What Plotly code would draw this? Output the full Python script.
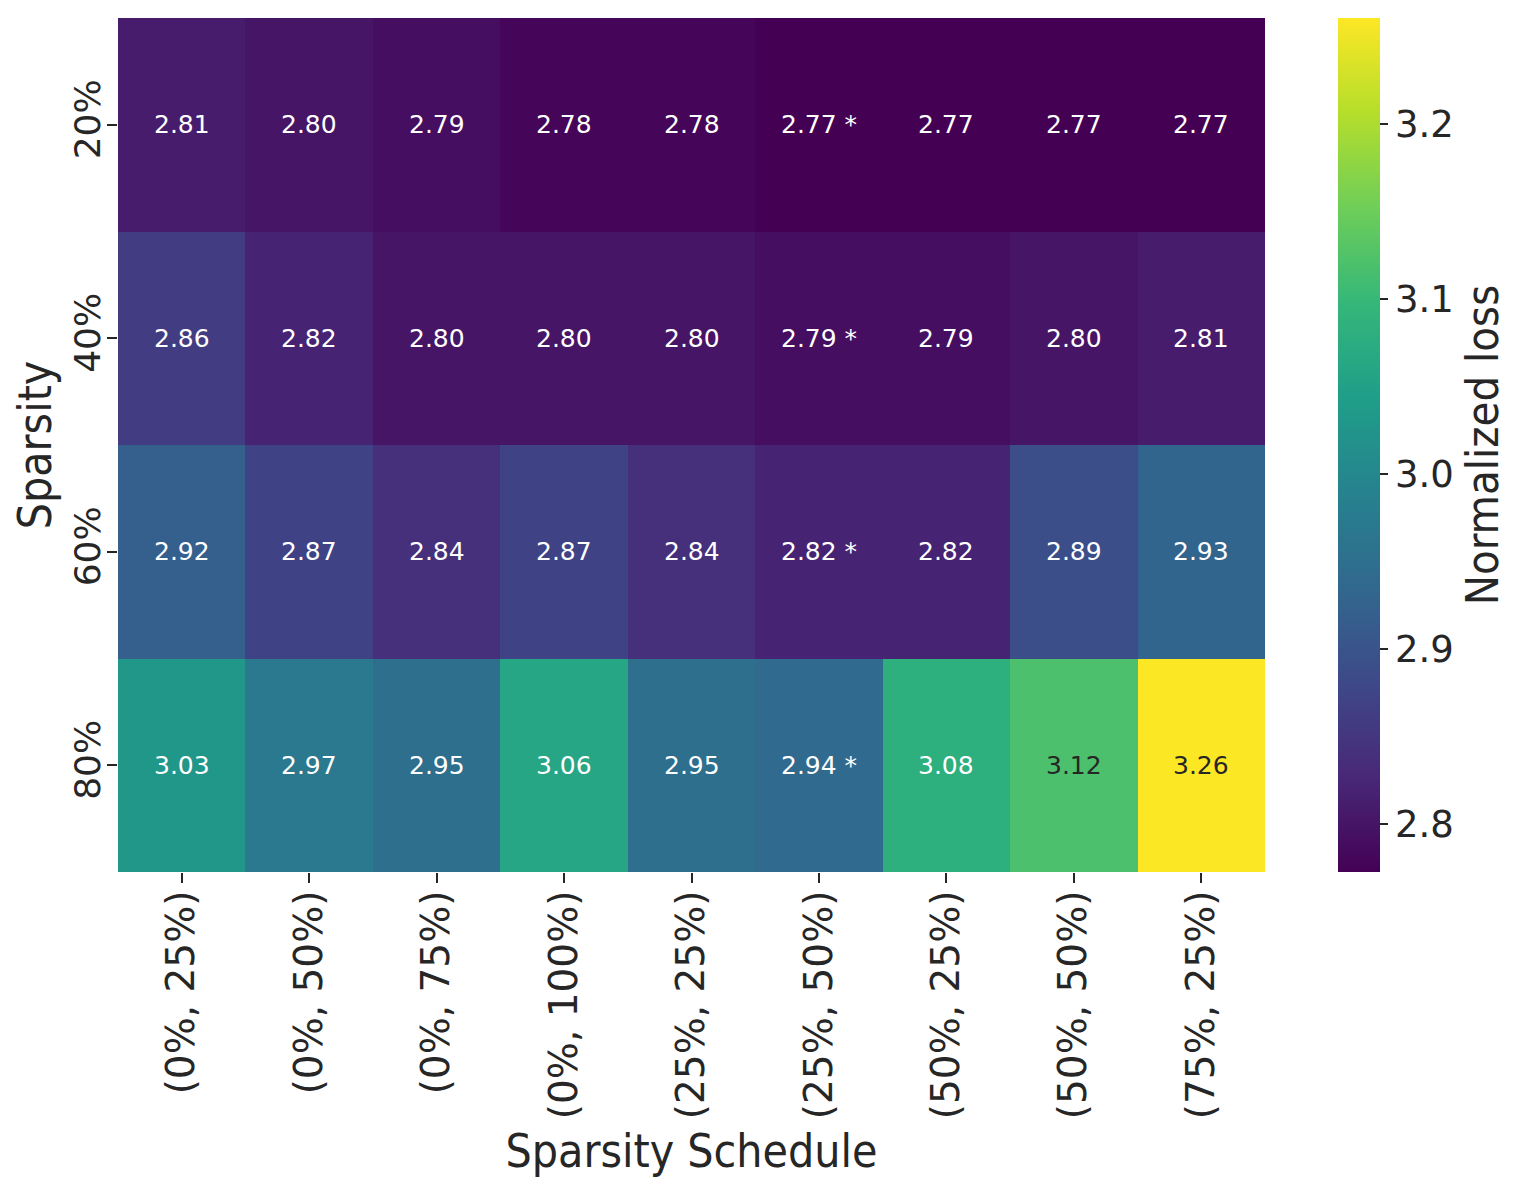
import plotly.graph_objects as go

schedules = ["(0%, 25%)", "(0%, 50%)", "(0%, 75%)", "(0%, 100%)", "(25%, 25%)",
             "(25%, 50%)", "(50%, 25%)", "(50%, 50%)", "(75%, 25%)"]
sparsity = ["20%", "40%", "60%", "80%"]

loss_20 = [2.81, 2.80, 2.79, 2.78, 2.78, 2.77, 2.77, 2.77, 2.77]
loss_40 = [2.86, 2.82, 2.80, 2.80, 2.80, 2.79, 2.79, 2.80, 2.81]
loss_60 = [2.92, 2.87, 2.84, 2.87, 2.84, 2.82, 2.82, 2.89, 2.93]
loss_80 = [3.03, 2.97, 2.95, 3.06, 2.95, 2.94, 3.08, 3.12, 3.26]

# column marked with * in every row
best_schedule = ["(25%, 50%)", "(25%, 50%)", "(25%, 50%)", "(25%, 50%)"]

cbar_ticks = [2.8, 2.9, 3.0, 3.1, 3.2]
zmin, zmax = 2.7726, 3.2606

z = [loss_20, loss_40, loss_60, loss_80]

FONT = "DejaVu Sans"
TITLE_FONT = "DejaVu Sans Condensed, Liberation Sans Narrow, DejaVu Sans"
INK = "#262626"

fig = go.Figure(go.Heatmap(
    z=z, x=schedules, y=sparsity,
    colorscale="Viridis", zmin=zmin, zmax=zmax,
    xgap=0, ygap=0,
    colorbar=dict(
        x=1.0637, xanchor="left", xref="paper", xpad=0, ypad=0,
        y=0, yanchor="bottom", len=1, lenmode="fraction",
        thickness=42, outlinewidth=0,
        tickvals=cbar_ticks, tickformat=".1f",
        ticks="outside", ticklen=8, tickwidth=1.5, tickcolor=INK,
        tickfont=dict(family=FONT, size=37, color=INK),
        title=dict(text="Normalized loss", side="right",
                   font=dict(family=TITLE_FONT, size=45, color=INK)),
    ),
))

# cell labels
for row, vals in zip(sparsity, z):
    star = best_schedule[sparsity.index(row)]
    for sched, v in zip(schedules, vals):
        txt = f"{v:.2f}" + (" *" if sched == star else "")
        fig.add_annotation(x=sched, y=row, text=txt, showarrow=False,
                           font=dict(family=FONT, size=25,
                                     color=INK if v > 3.10 else "white"))

fig.update_xaxes(
    tickangle=-90, ticks="outside", ticklen=10, tickwidth=1.5, tickcolor=INK,
    tickfont=dict(family=FONT, size=39, color=INK), showgrid=False, zeroline=False,
    automargin=False, ticklabelstandoff=-8,
    title=dict(text="Sparsity Schedule", standoff=16,
               font=dict(family=TITLE_FONT, size=46, color=INK)),
)
fig.update_yaxes(
    autorange="reversed", tickangle=-90, ticks="outside", ticklen=10, tickwidth=1.5,
    tickcolor=INK, tickfont=dict(family=FONT, size=36, color=INK),
    showgrid=False, zeroline=False, automargin=False, ticklabelstandoff=-7,
    title=dict(text="Sparsity", standoff=10,
               font=dict(family=TITLE_FONT, size=46, color=INK)),
)
# page body adds an 8px offset, so margins are shifted to keep the plot in place
fig.update_layout(
    width=1523, height=1193,
    margin=dict(l=110, r=266, t=10, b=329),
    paper_bgcolor="white", plot_bgcolor="white",
)
fig.write_html("out.html")
